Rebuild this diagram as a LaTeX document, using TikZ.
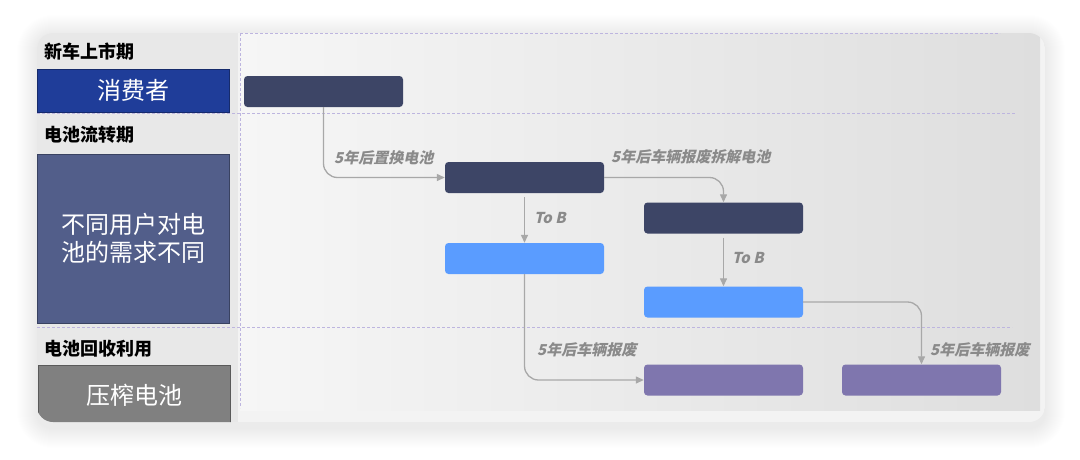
\documentclass[tikz,border=0pt]{standalone}
\usepackage{fontspec}
\newfontfamily\cjk{Noto Sans CJK SC}
\newfontfamily\cjksl{Noto Sans CJK SC}[FakeSlant=0.22]
\usetikzlibrary{arrows.meta}
\definecolor{darkbox}{HTML}{3D4566}
\definecolor{bluebox}{HTML}{5A9CFF}
\definecolor{purplebox}{HTML}{7F76AE}
\definecolor{consumer}{HTML}{1F3D99}
\definecolor{users}{HTML}{525E8A}
\definecolor{recycle}{HTML}{808080}
\definecolor{leftcol}{HTML}{E8E8E8}
\definecolor{cardbg}{HTML}{F3F3F3}
\definecolor{shadeL}{HTML}{F6F6F6}
\definecolor{shadeR}{HTML}{DEDEDE}
\definecolor{dashcol}{HTML}{BDB5DF}
\definecolor{conncol}{HTML}{A8A8A8}
\definecolor{labcol}{HTML}{8A8A8A}
\definecolor{shadowcol}{HTML}{6A6A90}
\tikzset{
  bar/.style={rounded corners=3.5pt, minimum width=159pt, minimum height=31pt, inner sep=0pt, draw=none},
  lane/.style={inner sep=0pt, anchor=north west, draw=#1!70!black, line width=0.6pt, fill=#1, text=white, font=\cjk\fontsize{24}{28}\selectfont, align=center},
  phase/.style={anchor=west, inner sep=0pt, font=\cjk\bfseries\fontsize{18}{20}\selectfont},
  conn/.style={draw=conncol, line width=1.3pt, rounded corners=14pt, -{Triangle[length=8pt,width=7pt]}},
  clab/.style={anchor=west, inner sep=0pt, text=labcol, font=\cjksl\bfseries\fontsize{15}{17}\selectfont},
  grid/.style={draw=dashcol, line width=0.6pt, dash pattern=on 3pt off 2pt}
}
\begin{document}
\begin{tikzpicture}[x=1pt,y=-1pt]
\useasboundingbox[fill=white] (0,0) rectangle (1080,459);
% soft shadow
\foreach \i in {1,...,20}{
  \fill[shadowcol, opacity=0.005, rounded corners={16+\i}] ({37-\i},{35-\i}) rectangle ({1045+\i},{428+\i});
}
% card
\begin{scope}
\clip[rounded corners=16pt] (37,33) rectangle (1045,422);
\fill[cardbg] (37,33) rectangle (1045,422);
\shade[left color=shadeL, right color=shadeR] (240,33) rectangle (1040,410);
\fill[leftcol] (37,33) rectangle (238,422);
\end{scope}
% grid lines
\draw[grid] (240,33) -- (1000,33);
\draw[grid] (240,33) -- (240,408);
\draw[grid] (37,113) -- (1015,113);
\draw[grid] (37,327) -- (1012,327);
% phases
\node[phase] (p1) at (44,52) {新车上市期};
\node[phase] (p2) at (44,135) {电池流转期};
\node[phase] (p3) at (44,349) {电池回收利用};
% lanes
\node[lane=consumer, minimum width=192pt, minimum height=43pt] (l1) at (37,69) {消费者};
\node[lane=users, minimum width=192pt, minimum height=169pt] (l2) at (37,154) {不同用户对电\\池的需求不同};
\begin{scope}
\clip[rounded corners=16pt] (37,33) rectangle (1045,422);
\node[lane=recycle, minimum width=192pt, minimum height=60pt] (l3) at (38,365) {压榨电池};
\end{scope}
% bars
\node[bar, fill=darkbox] (A) at (323.5,91.5) {};
\node[bar, fill=darkbox] (B) at (524.5,177.5) {};
\node[bar, fill=darkbox] (C) at (723.5,218) {};
\node[bar, fill=bluebox] (D) at (524.5,258.5) {};
\node[bar, fill=bluebox] (E) at (723.5,302) {};
\node[bar, fill=purplebox] (F) at (723.5,380) {};
\node[bar, fill=purplebox] (G) at (921.5,380) {};
% connectors
\draw[conn] (A.south) |- (B.west);
\draw[conn] (B.east) -| (C.north);
\draw[conn, shorten <=4pt] (B.south) -- (D.north);
\draw[conn, shorten <=4pt] (C.south) -- (E.north);
\draw[conn] (D.south) |- (F.west);
\draw[conn] (E.east) -| (G.north);
% labels
\node[clab] (t1) at (334,158) {5年后置换电池};
\node[clab] (t2) at (611,157) {5年后车辆报废拆解电池};
\node[clab] (t3) at (534,218) {To B};
\node[clab] (t4) at (732,258) {To B};
\node[clab] (t5) at (537,350) {5年后车辆报废};
\node[clab] (t6) at (930,350) {5年后车辆报废};
\end{tikzpicture}
\end{document}
